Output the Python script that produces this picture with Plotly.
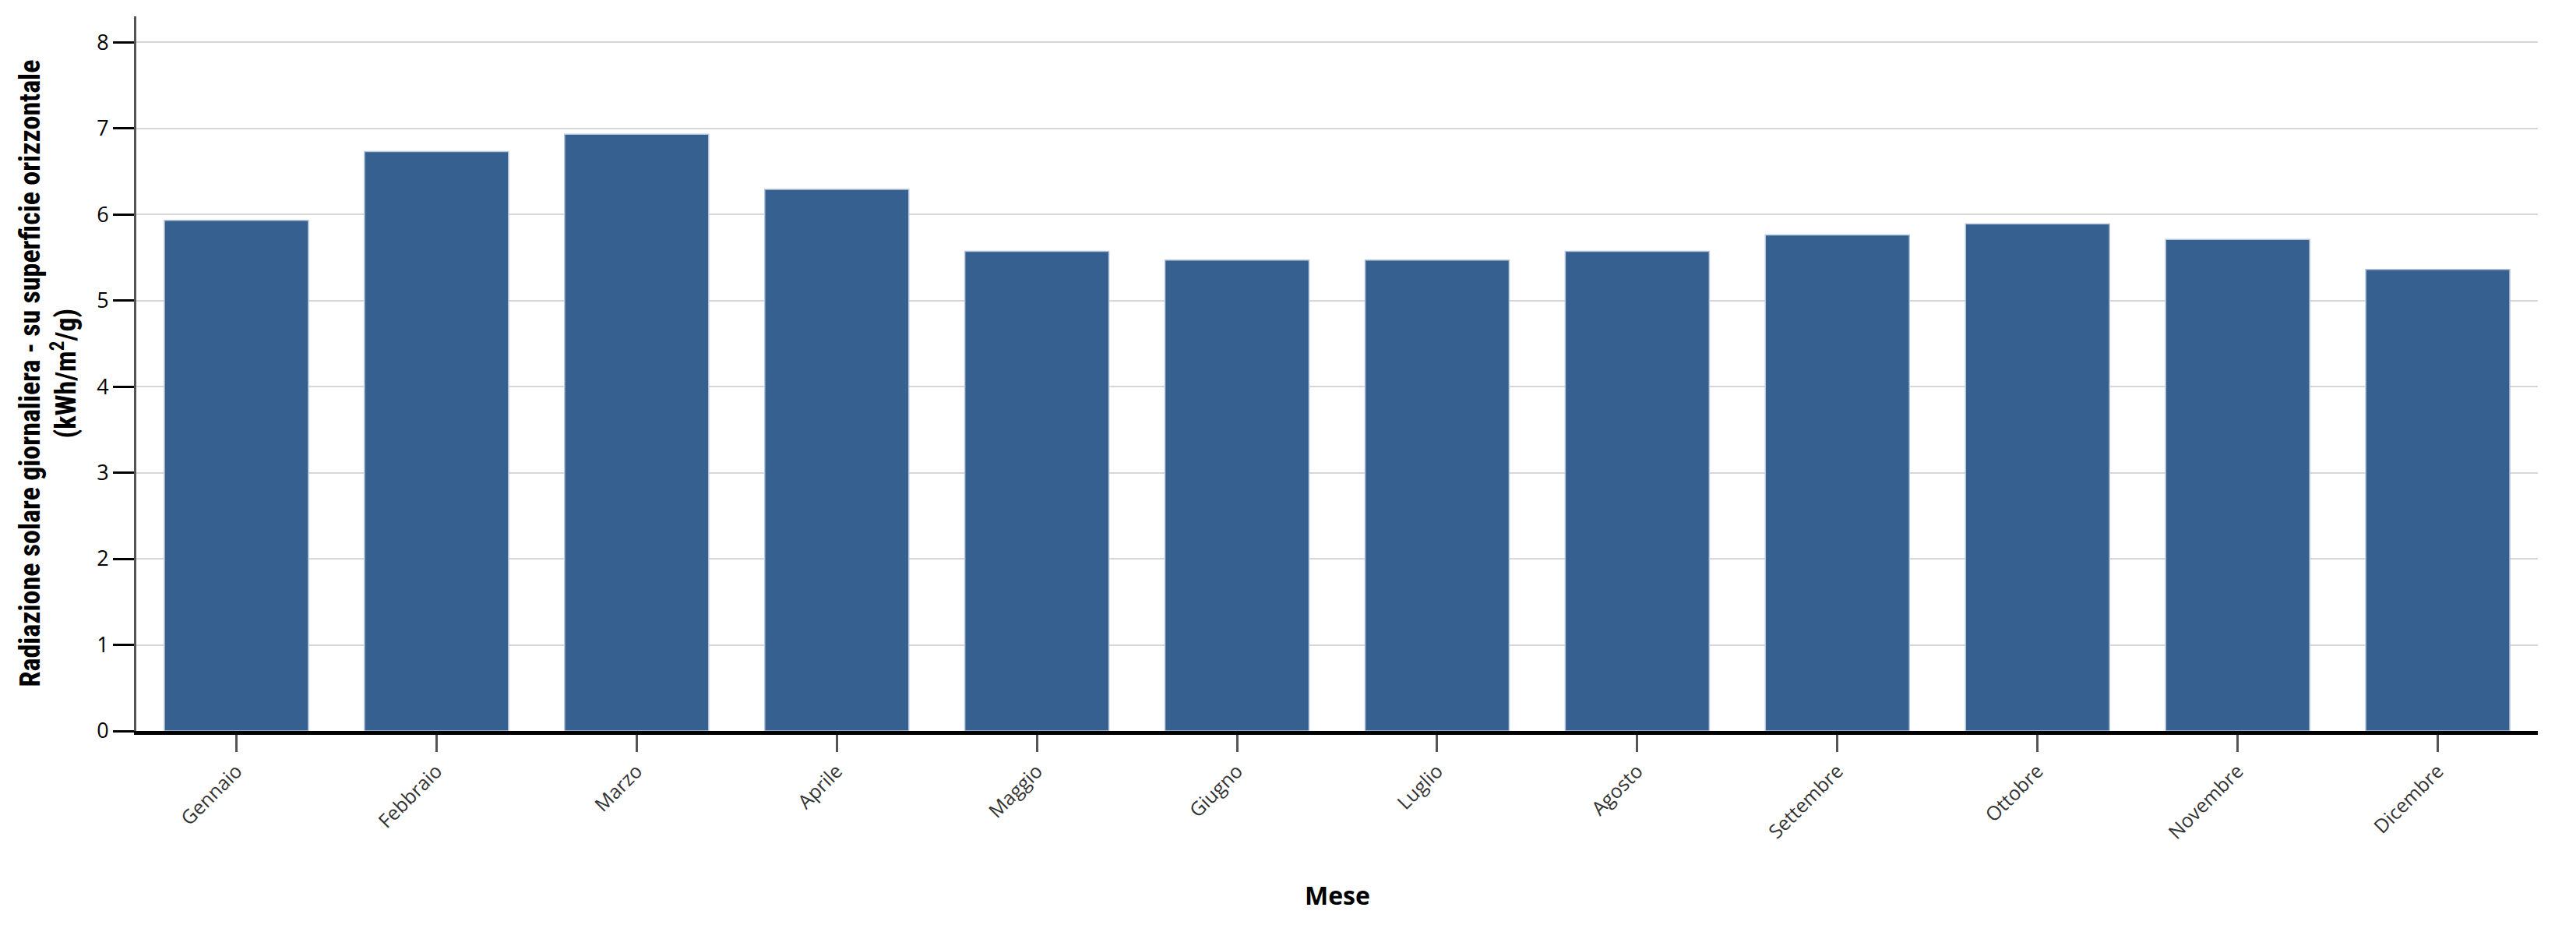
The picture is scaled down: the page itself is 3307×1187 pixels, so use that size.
import plotly.graph_objects as go

# Monthly daily solar radiation on a horizontal surface (kWh/m2/day)
mesi = ["Gennaio", "Febbraio", "Marzo", "Aprile", "Maggio", "Giugno",
        "Luglio", "Agosto", "Settembre", "Ottobre", "Novembre", "Dicembre"]
radiazione = [5.93, 6.73, 6.93, 6.29, 5.57, 5.47, 5.47, 5.57, 5.76, 5.89, 5.71, 5.36]
y_ticks = [0, 1, 2, 3, 4, 5, 6, 7, 8]

# the page body adds an 8px margin, so the figure is shrunk and shifted to fit
PAD = 8
W, H = 3307 - PAD, 1187 - PAD
L, R, T, B = 175 - PAD, 49, 21 - PAD, 249
plot_w = W - L - R
plot_h = H - T - B

BAR_COLOR = "#36608f"
TICK_FONT = "Open Sans, Noto Sans, DejaVu Sans, sans-serif"
NARROW = "Liberation Sans Narrow, Arial Narrow, Roboto Condensed, Liberation Sans, sans-serif"

fig = go.Figure(
    go.Bar(
        x=mesi,
        y=radiazione,
        marker=dict(color=BAR_COLOR, line=dict(color="#b7c7dc", width=1.5)),
        hoverinfo="x+y",
    )
)

fig.update_layout(
    width=W,
    height=H,
    margin=dict(l=L, r=R, t=T, b=B, autoexpand=False),
    plot_bgcolor="white",
    paper_bgcolor="white",
    bargap=0.28,
    showlegend=False,
    font=dict(family=TICK_FONT, color="#000"),
)

fig.update_xaxes(
    range=[-0.5, len(mesi) - 0.5],
    showline=True, linecolor="black", linewidth=5,
    ticks="outside", ticklen=22, tickwidth=3, tickcolor="#555",
    tickangle=-45,
    tickfont=dict(size=25, color="#333", family=TICK_FONT),
    showgrid=False, zeroline=False, automargin=False,
)

fig.update_yaxes(
    range=[0, 8.3],
    tickvals=y_ticks,
    showline=True, linecolor="#555", linewidth=3,
    ticks="outside", ticklen=27, tickwidth=3, tickcolor="black",
    tickfont=dict(size=27, color="#000", family=TICK_FONT),
    showgrid=True, gridcolor="#d6d6d6", gridwidth=2,
    zeroline=False, automargin=False,
)

# axis titles placed by hand to match the original spacing
fig.add_annotation(
    text="<b>Radiazione solare giornaliera - su superficie orizzontale<br>(kWh/m<sup>2</sup>/g)</b>",
    xref="paper", yref="paper",
    x=(62 - 175) / plot_w, y=0.5,
    xanchor="center", yanchor="middle",
    textangle=-90, showarrow=False,
    font=dict(family=NARROW, size=36, color="#000"),
)
fig.add_annotation(
    text="<b>Mese</b>",
    xref="paper", yref="paper",
    x=0.5, y=(938 - 1148) / plot_h,
    xanchor="center", yanchor="middle",
    showarrow=False,
    font=dict(family=TICK_FONT, size=32, color="#000"),
)

fig.write_html("out.html")
